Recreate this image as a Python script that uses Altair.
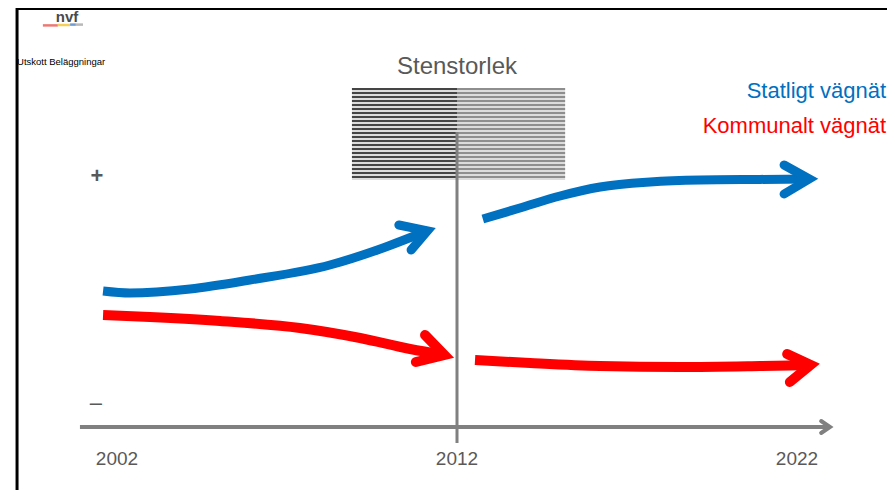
import altair as alt
import pandas as pd

# ---- data (x = year, y = relative level; 0 = time axis) ----
blue1_year = [2001.59, 2002.38, 2004.15, 2005.91, 2008.26, 2009.74, 2011.13]
blue1_level = [34.0, 33.5, 34.5, 36.75, 40.5, 44.5, 49.05]
blue1_head_year = [2010.29, 2011.13, 2010.65]
blue1_head_level = [50.5, 49.05, 44.25]

blue2_year = [2012.76, 2013.85, 2015.03, 2016.21, 2017.68, 2019.15, 2020.91, 2022.36]
blue2_level = [52.0, 54.75, 57.75, 60.0, 61.25, 61.75, 61.9, 62.0]
blue2_head_year = [2021.62, 2022.36, 2021.62]
blue2_head_level = [65.5, 62.0, 58.25]

red1_year = [2001.59, 2002.97, 2005.03, 2007.38, 2009.15, 2010.62, 2011.63]
red1_level = [28.0, 27.5, 26.5, 24.75, 22.25, 19.5, 18.0]
red1_head_year = [2011.06, 2011.63, 2010.79]
red1_head_level = [23.0, 18.0, 16.25]

red2_year = [2012.53, 2014.15, 2016.21, 2018.56, 2020.91, 2022.40]
red2_level = [16.75, 16.0, 15.25, 15.0, 15.25, 15.5]
red2_head_year = [2021.71, 2022.40, 2021.79]
red2_head_level = [18.25, 15.5, 11.25]

axis_year = [2000.91, 2022.97]
axis_level = [0.0, 0.0]
axis_head_year = [2022.71, 2022.97, 2022.71]
axis_head_level = [1.5, 0.0, -1.5]

tick_years = [2002, 2012, 2022]
tick_labels = ["2002", "2012", "2022"]
tick_level = -8.1

divider_year = 2012
divider_levels = [73.75, -4.0]

series_names = ["Statligt vägnät", "Kommunalt vägnät"]
series_colors = ["#0070C0", "#FF0000"]

photo_years = [2008.91, 2015.18]
photo_levels = [61.75, 84.75]
stripe_levels = [84.5, 83.5, 82.5, 81.5, 80.5, 79.5, 78.5, 77.5, 76.5, 75.5, 74.5, 73.5,
                 72.5, 71.5, 70.5, 69.5, 68.5, 67.5, 66.5, 65.5, 64.5, 63.5, 62.5]

XMIN, XMAX = 1998.794, 2024.647
YMIN, YMAX = -15.75, 104.75
FONT = "Liberation Sans"
GRAY = "#808080"
TXT = "#595959"


def X(field="year"):
    return alt.X(f"{field}:Q", scale=alt.Scale(domain=[XMIN, XMAX], nice=False, zero=False), axis=None)


def Y(field="level"):
    return alt.Y(f"{field}:Q", scale=alt.Scale(domain=[YMIN, YMAX], nice=False, zero=False), axis=None)


def rows(name, ys, ls):
    return [{"name": name, "ord": i, "year": y, "level": l} for i, (y, l) in enumerate(zip(ys, ls))]


cmap = {"b1": series_colors[0], "b2": series_colors[0], "r1": series_colors[1], "r2": series_colors[1]}
wmap = {"b1": 9, "b2": 9, "r1": 10, "r2": 10}

shafts = pd.DataFrame(
    rows("b1", blue1_year, blue1_level) + rows("b2", blue2_year, blue2_level)
    + rows("r1", red1_year, red1_level) + rows("r2", red2_year, red2_level)
)
shafts["color"] = shafts["name"].map(cmap)
shafts["w"] = shafts["name"].map(wmap)

heads = pd.DataFrame(
    rows("b1", blue1_head_year, blue1_head_level) + rows("b2", blue2_head_year, blue2_head_level)
    + rows("r1", red1_head_year, red1_head_level) + rows("r2", red2_head_year, red2_head_level)
)
heads["color"] = heads["name"].map(cmap)
heads["w"] = heads["name"].map(wmap)

axis_df = pd.DataFrame(rows("a", axis_year, axis_level))
axis_head_df = pd.DataFrame(rows("ah", axis_head_year, axis_head_level))

# ---- frame (slide border) ----
frame_top = alt.Chart(pd.DataFrame({"year": [1999.06], "year2": [XMAX], "level": [104.6]})).mark_rule(
    color="#000000", strokeWidth=3).encode(x=X(), x2="year2:Q", y=Y())
frame_left = alt.Chart(pd.DataFrame({"year": [1999.06], "level": [YMAX], "level2": [YMIN]})).mark_rule(
    color="#000000", strokeWidth=3).encode(x=X(), y=Y(), y2="level2:Q")

# ---- logo ----
logo_txt = alt.Chart(pd.DataFrame({"year": [2000.53], "level": [102.6], "t": ["nvf"]})).mark_text(
    font=FONT, fontSize=15, fontWeight="bold", color="#4a4a4a", align="center", baseline="middle"
).encode(x=X(), y=Y(), text="t:N")
logo_bars = alt.Chart(pd.DataFrame({
    "year": [1999.82, 2000.26, 2000.62, 2000.79],
    "year2": [2000.26, 2000.62, 2000.79, 2001.0],
    "level": [100.4, 100.5, 100.6, 100.6],
    "c": ["#ec7a74", "#f4cf5a", "#6f9bd2", "#b8b8b8"],
})).mark_rule(strokeWidth=2.5).encode(x=X(), x2="year2:Q", y=Y(), color=alt.Color("c:N", scale=None))

utskott = alt.Chart(pd.DataFrame({"year": [1999.06], "level": [91.25], "t": ["Utskott Beläggningar"]})).mark_text(
    font=FONT, fontSize=9.5, color="#000000", align="left", baseline="middle"
).encode(x=X(), y=Y(), text="t:N")

# ---- photo placeholder ----
photo = alt.Chart(pd.DataFrame({"year": [photo_years[0]], "year2": [photo_years[1]],
                                "level": [photo_levels[0]], "level2": [photo_levels[1]]})).mark_rect(
    color="#dcdcdc").encode(x=X(), x2="year2:Q", y=Y(), y2="level2:Q")
stripes_left = alt.Chart(pd.DataFrame({"year": [photo_years[0]] * len(stripe_levels),
                                       "year2": [2012.0] * len(stripe_levels),
                                       "level": stripe_levels})).mark_rule(
    color="#454545", strokeWidth=1.9).encode(x=X(), x2="year2:Q", y=Y())
stripes_right = alt.Chart(pd.DataFrame({"year": [2012.0] * len(stripe_levels),
                                        "year2": [photo_years[1]] * len(stripe_levels),
                                        "level": stripe_levels})).mark_rule(
    color="#747474", strokeWidth=1.6).encode(x=X(), x2="year2:Q", y=Y())

title = alt.Chart(pd.DataFrame({"year": [2012.0], "level": [90.0], "t": ["Stenstorlek"]})).mark_text(
    font=FONT, fontSize=24, color=TXT, align="center", baseline="middle"
).encode(x=X(), y=Y(), text="t:N")

# ---- divider & time axis ----
divider = alt.Chart(pd.DataFrame({"year": [divider_year], "level": [divider_levels[0]],
                                  "level2": [divider_levels[1]]})).mark_rule(
    color=GRAY, strokeWidth=3).encode(x=X(), y=Y(), y2="level2:Q")
axis_line = alt.Chart(axis_df).mark_line(color=GRAY, strokeWidth=4).encode(x=X(), y=Y(), order="ord:Q")
axis_head = alt.Chart(axis_head_df).mark_line(color=GRAY, strokeWidth=4, strokeCap="round",
                                              strokeJoin="miter").encode(x=X(), y=Y(), order="ord:Q")
ticks = alt.Chart(pd.DataFrame({"year": tick_years, "level": [tick_level] * 3, "t": tick_labels})).mark_text(
    font=FONT, fontSize=19, color=TXT, align="center", baseline="middle"
).encode(x=X(), y=Y(), text="t:N")

plus = alt.Chart(pd.DataFrame({"year": [2001.41], "level": [62.75], "t": ["+"]})).mark_text(
    font=FONT, fontSize=22, fontWeight="bold", color=TXT, align="center", baseline="middle"
).encode(x=X(), y=Y(), text="t:N")
minus = alt.Chart(pd.DataFrame({"year": [2001.38], "level": [6.0], "t": ["–"]})).mark_text(
    font=FONT, fontSize=22, color=TXT, align="center", baseline="middle"
).encode(x=X(), y=Y(), text="t:N")

# ---- arrows ----
shaft_layer = alt.Chart(shafts).mark_line(interpolate="monotone", strokeCap="butt").encode(
    x=X(), y=Y(), detail="name:N", order="ord:Q",
    color=alt.Color("color:N", scale=None), strokeWidth=alt.StrokeWidth("w:Q", scale=None))
head_layer = alt.Chart(heads).mark_line(strokeCap="round", strokeJoin="miter").encode(
    x=X(), y=Y(), detail="name:N", order="ord:Q",
    color=alt.Color("color:N", scale=None), strokeWidth=alt.StrokeWidth("w:Q", scale=None))

legend_txt = alt.Chart(pd.DataFrame({"year": [2024.62, 2024.62], "level": [84.0, 75.25],
                                     "t": series_names, "c": series_colors})).mark_text(
    font=FONT, fontSize=22, align="right", baseline="middle"
).encode(x=X(), y=Y(), text="t:N", color=alt.Color("c:N", scale=None))

chart = alt.layer(
    frame_top, frame_left, logo_txt, logo_bars, utskott,
    photo, stripes_left, stripes_right, title,
    axis_line, axis_head, divider, ticks, plus, minus,
    shaft_layer, head_layer, legend_txt,
).properties(width=879, height=482, autosize=alt.AutoSizeParams(type="none"), padding=0,
             background="#ffffff"
).configure_view(stroke=None)

chart.save("out.html", embed_options={"renderer": "svg", "actions": False})
